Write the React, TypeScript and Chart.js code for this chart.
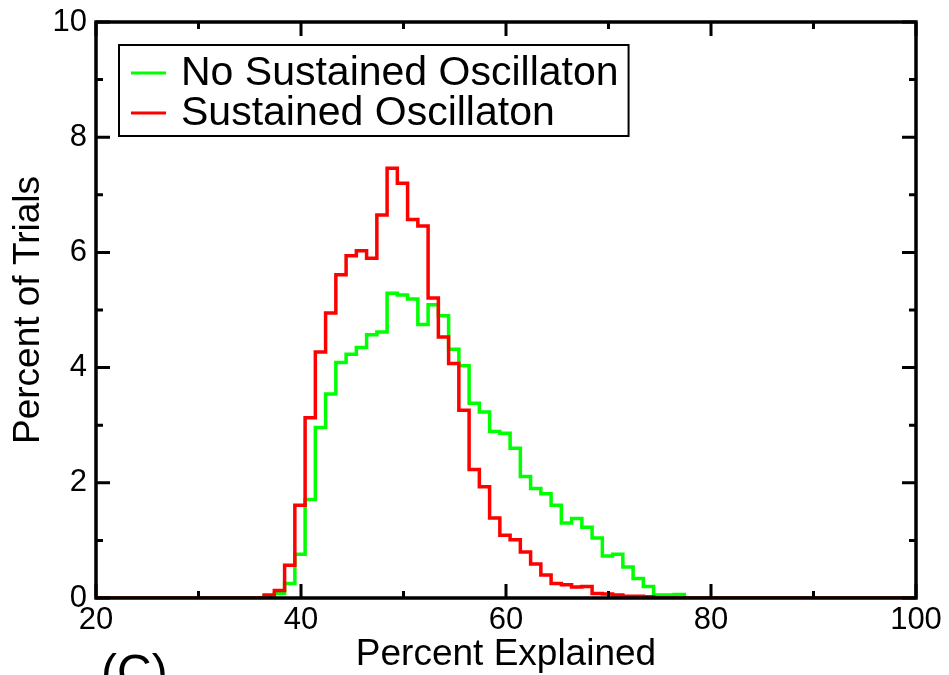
import React, { useEffect, useRef } from "react";
import { Chart, registerables } from "chart.js";

Chart.register(...registerables);

// ---- data ----
const binStarts = [
  36.4, 37.4, 38.4, 39.4, 40.4, 41.4, 42.4, 43.4, 44.4, 45.4, 46.4, 47.4, 48.4, 49.4,
  50.4, 51.4, 52.4, 53.4, 54.4, 55.4, 56.4, 57.4, 58.4, 59.4, 60.4, 61.4, 62.4, 63.4,
  64.4, 65.4, 66.4, 67.4, 68.4, 69.4, 70.4, 71.4, 72.4, 73.4, 74.4, 75.4, 76.4, 77.4,
];
const binWidth = 1;

const noSustained = [
  0.03, 0.08, 0.25, 0.76, 1.71, 2.96, 3.54, 4.09, 4.23, 4.35, 4.57, 4.62, 5.29, 5.26,
  5.19, 4.75, 5.09, 4.9, 4.32, 4.03, 3.38, 3.23, 2.89, 2.86, 2.6, 2.11, 1.9, 1.81,
  1.61, 1.3, 1.38, 1.23, 1.04, 0.73, 0.76, 0.54, 0.34, 0.2, 0.05, 0.05, 0.06, 0,
];
const sustained = [
  0.05, 0.13, 0.57, 1.61, 3.13, 4.27, 4.95, 5.61, 5.94, 6.03, 5.9, 6.65, 7.46, 7.2,
  6.57, 6.46, 5.21, 4.53, 4.07, 3.26, 2.23, 1.93, 1.39, 1.09, 1.01, 0.8, 0.59, 0.4,
  0.25, 0.23, 0.19, 0.2, 0.08, 0.07, 0.05, 0.03, 0.03, 0.02, 0, 0, 0, 0,
];

const seriesLabels = ["No Sustained Oscillaton", "Sustained Oscillaton"];
const seriesColors = ["#00ff00", "#ff0000"];

const xRange = [20, 100];
const yRange = [0, 10];
const xMajorTicks = [20, 40, 60, 80, 100];
const xMinorTicks = [30, 50, 70, 90];
const yMajorTicks = [0, 2, 4, 6, 8, 10];
const yMinorTicks = [1, 3, 5, 7, 9];

const xTitle = "Percent Explained";
const yTitle = "Percent of Trials";
const panelLabel = "(C)";

const FONT = "'Liberation Sans', Arial, Helvetica, sans-serif";

function toSteps(values: number[]) {
  const pts: { x: number; y: number }[] = [{ x: xRange[0], y: 0 }];
  binStarts.forEach((s, i) => pts.push({ x: s, y: values[i] }));
  const end = binStarts[binStarts.length - 1] + binWidth;
  pts.push({ x: end, y: 0 });
  pts.push({ x: xRange[1], y: 0 });
  return pts;
}

const framePlugin = {
  id: "frameTicks",
  afterDatasetsDraw(chart: any) {
    const { ctx, chartArea: a, scales } = chart;
    const x = scales.x;
    const y = scales.y;
    const major = 14;
    const minor = 7;
    ctx.save();
    ctx.strokeStyle = "#000";
    ctx.lineWidth = 3;
    ctx.beginPath();
    const xt = (v: number, len: number) => {
      const px = x.getPixelForValue(v);
      ctx.moveTo(px, a.bottom);
      ctx.lineTo(px, a.bottom - len);
      ctx.moveTo(px, a.top);
      ctx.lineTo(px, a.top + len);
    };
    const yt = (v: number, len: number) => {
      const py = y.getPixelForValue(v);
      ctx.moveTo(a.left, py);
      ctx.lineTo(a.left + len, py);
      ctx.moveTo(a.right, py);
      ctx.lineTo(a.right - len, py);
    };
    xMajorTicks.forEach((v) => xt(v, major));
    xMinorTicks.forEach((v) => xt(v, minor));
    yMajorTicks.forEach((v) => yt(v, major));
    yMinorTicks.forEach((v) => yt(v, minor));
    ctx.stroke();
    ctx.lineWidth = 3.5;
    ctx.strokeRect(a.left, a.top, a.right - a.left, a.bottom - a.top);
    ctx.restore();
  },
};

const legendPlugin = {
  id: "boxLegend",
  afterDraw(chart: any) {
    const { ctx, chartArea: a } = chart;
    const ds = chart.data.datasets;
    const boxLeft = a.left + 23;
    const boxTop = a.top + 23;
    const rowGap = 40;
    const firstRow = boxTop + 28;
    const lineX0 = boxLeft + 12;
    const lineX1 = boxLeft + 47;
    const textX = boxLeft + 62;
    ctx.save();
    ctx.font = `41px ${FONT}`;
    let maxW = 0;
    ds.forEach((d: any) => {
      maxW = Math.max(maxW, ctx.measureText(d.label).width);
    });
    const boxRight = textX + maxW + 10;
    const boxBottom = boxTop + 91;
    ctx.fillStyle = "#fff";
    ctx.fillRect(boxLeft, boxTop, boxRight - boxLeft, boxBottom - boxTop);
    ctx.strokeStyle = "#000";
    ctx.lineWidth = 2;
    ctx.strokeRect(boxLeft, boxTop, boxRight - boxLeft, boxBottom - boxTop);
    ds.forEach((d: any, i: number) => {
      const cy = firstRow + i * rowGap;
      ctx.strokeStyle = d.borderColor;
      ctx.lineWidth = 3;
      ctx.beginPath();
      ctx.moveTo(lineX0, cy);
      ctx.lineTo(lineX1, cy);
      ctx.stroke();
      ctx.fillStyle = "#000";
      ctx.textBaseline = "middle";
      ctx.textAlign = "left";
      ctx.fillText(d.label, textX, cy + 1);
    });
    ctx.restore();
  },
};

export default function App() {
  const canvasRef = useRef<HTMLCanvasElement | null>(null);

  useEffect(() => {
    if (!canvasRef.current) return;
    const chart = new Chart(canvasRef.current, {
      type: "line",
      data: {
        datasets: [
          {
            label: seriesLabels[0],
            data: toSteps(noSustained),
            borderColor: seriesColors[0],
            backgroundColor: seriesColors[0],
            borderWidth: 3.5,
            stepped: true,
            pointRadius: 0,
            fill: false,
            order: 2,
          },
          {
            label: seriesLabels[1],
            data: toSteps(sustained),
            borderColor: seriesColors[1],
            backgroundColor: seriesColors[1],
            borderWidth: 3.5,
            stepped: true,
            pointRadius: 0,
            fill: false,
            order: 1,
          },
        ],
      },
      options: {
        animation: false,
        responsive: false,
        maintainAspectRatio: false,
        layout: { padding: { left: 0, right: 33, top: 22, bottom: 0 } },
        plugins: {
          legend: { display: false },
          tooltip: { enabled: false },
        },
        scales: {
          x: {
            type: "linear",
            min: xRange[0],
            max: xRange[1],
            afterBuildTicks: (s: any) => {
              s.ticks = xMajorTicks.map((v) => ({ value: v }));
            },
            afterFit: (s: any) => {
              s.height = 77;
              s.paddingLeft = 0;
              s.paddingRight = 0;
            },
            grid: { display: false, drawTicks: false },
            border: { display: false },
            ticks: {
              color: "#000",
              font: { family: FONT, size: 31 },
              padding: 4,
              maxRotation: 0,
              autoSkip: false,
            },
            title: {
              display: true,
              text: xTitle,
              color: "#000",
              font: { family: FONT, size: 37, lineHeight: 1.1 },
              padding: { top: 0, bottom: 0 },
            },
          },
          y: {
            type: "linear",
            min: yRange[0],
            max: yRange[1],
            afterBuildTicks: (s: any) => {
              s.ticks = yMajorTicks.map((v) => ({ value: v }));
            },
            afterFit: (s: any) => {
              s.width = 96;
              s.paddingTop = 0;
              s.paddingBottom = 0;
            },
            grid: { display: false, drawTicks: false },
            border: { display: false },
            ticks: {
              color: "#000",
              font: { family: FONT, size: 31 },
              padding: 9,
              autoSkip: false,
            },
            title: {
              display: true,
              text: yTitle,
              color: "#000",
              font: { family: FONT, size: 37 },
              padding: { top: 7, bottom: 0 },
            },
          },
        },
      },
      plugins: [framePlugin, legendPlugin],
    });
    return () => chart.destroy();
  }, []);

  return (
    <div
      style={{
        position: "fixed",
        left: 0,
        top: 0,
        width: 949,
        height: 675,
        overflow: "hidden",
        background: "#fff",
      }}
    >
      <canvas ref={canvasRef} width={949} height={675} style={{ display: "block" }} />
      <div
        style={{
          position: "absolute",
          left: 101,
          top: 644,
          fontFamily: FONT,
          fontSize: 48,
          lineHeight: "normal",
          color: "#000",
          whiteSpace: "nowrap",
        }}
      >
        {panelLabel}
      </div>
    </div>
  );
}
